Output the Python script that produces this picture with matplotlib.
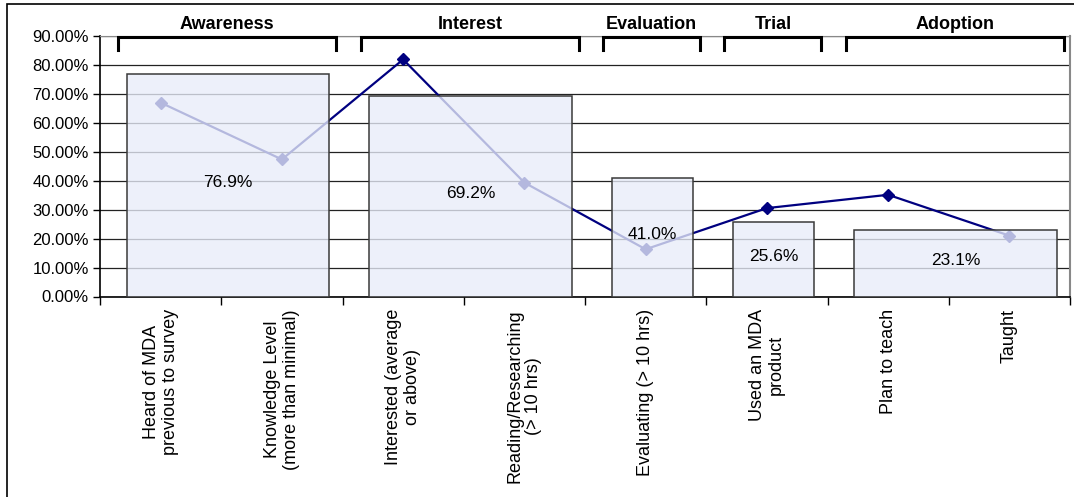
import matplotlib.pyplot as plt
import matplotlib.patches as mpatches
import numpy as np

plt.rcParams['font.family'] = ['Liberation Sans', 'DejaVu Sans']

# ── data ─────────────────────────────────────────────────────────────────────
categories = ["Heard of MDA\nprevious to survey", "Knowledge Level\n(more than minimal)",
              "Interested (average\nor above)", "Reading/Researching\n(> 10 hrs)",
              "Evaluating (> 10 hrs)", "Used an MDA\nproduct", "Plan to teach", "Taught"]
item_pct = [0.669, 0.473, 0.818, 0.393, 0.163, 0.305, 0.351, 0.210]

stages = ["Awareness", "Interest", "Evaluation", "Trial", "Adoption"]
stage_pct = [0.769, 0.692, 0.410, 0.256, 0.231]
stage_size = [2, 2, 1, 1, 2]          # how many items belong to each stage

yticks = np.arange(0, 0.91, 0.1)

# ── figure ───────────────────────────────────────────────────────────────────
fig = plt.figure(figsize=(10.74, 4.97), dpi=100)
ax = fig.add_axes([100 / 1074, 1 - 296.5 / 497, 970 / 1074, 260.8 / 497])

# outer frame (only top/left visible in the source image)
fig.patches.append(mpatches.Rectangle((7 / 1074, -0.5), 2, 0.5 + 1 - 4.3 / 497,
                                      transform=fig.transFigure, fill=False,
                                      edgecolor="black", linewidth=1.2))

x = np.arange(len(categories)) + 0.5
ax.plot(x, item_pct, color="#000080", lw=1.6, marker="D", markersize=6.5, zorder=2)

starts = np.concatenate([[0], np.cumsum(stage_size)[:-1]])
ends = starts + np.array(stage_size)
bar_l = starts + 0.22
bar_r = ends - 0.11
ax.bar(bar_l, stage_pct, width=bar_r - bar_l, align="edge",
       facecolor=(0.91, 0.93, 0.975, 0.78), edgecolor="#3a3a3a", linewidth=1.1, zorder=3)
for l, r, v in zip(bar_l, bar_r, stage_pct):
    ax.text((l + r) / 2, v / 2 + 0.01, f"{v:.1%}", ha="center", va="center",
            fontsize=12.5, zorder=4)

# stage brackets + titles above the plot
br_l = starts + 0.15
br_r = ends - 0.05
for l, r, name in zip(br_l, br_r, stages):
    ax.plot([l, l, r, r], [0.851, 0.894, 0.894, 0.851], color="black", lw=2.2,
            solid_joinstyle="miter", clip_on=False, zorder=5)
    ax.text((l + r) / 2, 0.94, name, ha="center", va="center", fontsize=13,
            fontweight="bold", clip_on=False)

ax.set_xlim(0, 8)
ax.set_ylim(0, 0.9)
ax.set_yticks(yticks)
ax.set_yticklabels([f"{v:.2%}" for v in yticks], fontsize=12)
ax.yaxis.grid(True, color="#222222", lw=0.9, zorder=0.5)
ax.set_axisbelow(True)

ax.set_xticks(np.arange(0, 9))
ax.set_xticklabels([])
ax.set_xticks(x, minor=True)
ax.set_xticklabels(categories, minor=True, rotation=90, fontsize=13,
                   multialignment="center", linespacing=1.15)
ax.tick_params(axis="x", which="major", direction="out", length=6, width=1)
ax.tick_params(axis="x", which="minor", length=0, pad=9)
ax.tick_params(axis="y", direction="out", length=5, width=1, pad=3)

ax.spines["top"].set_color("#888888")
ax.spines["right"].set_color("#888888")
ax.spines["right"].set_linewidth(1.5)
ax.spines["left"].set_linewidth(1.2)
ax.spines["bottom"].set_linewidth(1.2)

plt.savefig("out.png", dpi=100)
plt.close()
print("Saved: out.png")
